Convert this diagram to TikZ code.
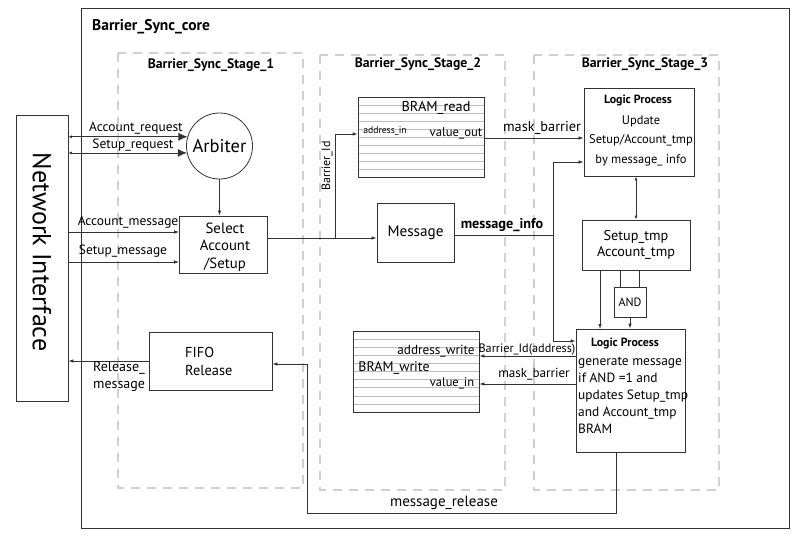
\documentclass[tikz,border=0pt]{standalone}
\usepackage{fontspec}
\setmainfont{PT Sans}
\usetikzlibrary{arrows.meta}
\definecolor{ln}{HTML}{333333}
\definecolor{dsh}{HTML}{CFCFCF}
\definecolor{stripe}{HTML}{BDBDBD}
\newcommand{\fs}[1]{\fontsize{#1}{#1}\selectfont}
\newcommand{\fsb}[2]{\fontsize{#1}{#2}\selectfont}
\begin{document}
\begin{tikzpicture}[x=1pt,y=-1pt,
  box/.style={draw=ln, line width=0.8pt, inner sep=0pt, rectangle},
  stagebox/.style={draw=dsh, line width=1.4pt, dash pattern=on 9pt off 7pt},
  conn/.style={draw=ln, line width=0.8pt},
  arr/.style={conn, -{Latex[length=5pt,width=3.5pt]}},
  txt/.style={inner sep=0pt, text=black},
  ttl/.style={txt, font=\bfseries\fs{13.7}}
]
\useasboundingbox (0,0) rectangle (800,541);
% core
\node[box, line width=0.9pt, minimum width=708, minimum height=520] (core) at (435,268) {};
\node[txt, anchor=west, font=\bfseries\fs{15.5}] (coret) at (92,27) {Barrier\_Sync\_core};
% stages
\draw[stagebox] (118,53) rectangle (303,488);
\draw[stagebox] (320,55) rectangle (505,490);
\draw[stagebox] (534,55) rectangle (719,490);
\node[ttl] (s1) at (211,65) {Barrier\_Sync\_Stage\_1};
\node[ttl] (s2) at (418,64) {Barrier\_Sync\_Stage\_2};
\node[ttl] (s3) at (645,64) {Barrier\_Sync\_Stage\_3};
% network interface
\node[box, minimum width=52, minimum height=286] (ni) at (42,258) {};
\node[txt, rotate=-90, font=\fs{26}] (nit) at (42,252) {Network Interface};
% arbiter
\node[draw=ln, line width=0.8pt, circle, minimum size=66, inner sep=0pt, font=\fs{18.5}] (arb) at (219.5,146) {Arbiter};
% select
\node[box, minimum width=88, minimum height=57] (sel) at (223.5,244.5) {};
\node[txt, align=center, font=\fsb{14.8}{17.5}] (selt) at (225,247) {Select\\Account\\/Setup};
% FIFO
\node[box, minimum width=123, minimum height=58] (fifo) at (210.5,361) {};
\node[txt, anchor=west, align=left, font=\fsb{14.4}{18}] (fifot) at (185,361) {FIFO\\Release};
% message
\node[box, minimum width=77, minimum height=59, font=\fs{15.2}] (msg) at (415.5,232.5) {Message};
% BRAM read
\node[box, minimum width=126, minimum height=80] (bramr) at (421,137) {};
\foreach \k in {1,...,9} {\draw[stripe, line width=0.5pt] (358.5,97+8*\k) -- (483.5,97+8*\k);}
\node[txt, font=\fs{14.3}] (bramrt) at (436,108) {BRAM\_read};
\node[txt, font=\fs{9.7}] (addrin) at (385,131) {address\_in};
\node[txt, font=\fs{12.7}] (valout) at (456,133) {value\_out};
% BRAM write
\node[box, minimum width=126, minimum height=81] (bramw) at (416,371.5) {};
\foreach \k in {1,...,9} {\draw[stripe, line width=0.5pt] (353.5,331+8.1*\k) -- (478.5,331+8.1*\k);}
\node[txt, font=\fs{13.2}] (addrw) at (436,351) {address\_write};
\node[txt, font=\fs{13.9}] (bramwt) at (394,368) {BRAM\_write};
\node[txt, font=\fs{12.5}] (valin) at (452,383) {value\_in};
% logic process 1
\node[box, minimum width=110, minimum height=88] (lp1) at (639,132) {};
\node[txt, font=\bfseries\fs{11.9}] (lp1t) at (638,101) {Logic Process};
\node[txt, align=center, font=\fsb{12.5}{19.5}] (lp1b) at (641,140.5) {Update\\Setup/Account\_tmp\\by message\_ info};
% tmp
\node[box, minimum width=108, minimum height=50, align=center, font=\fsb{14.2}{16.5}] (tmp) at (636,245) {Setup\_tmp\\Account\_tmp};
% AND
\node[box, minimum width=32, minimum height=30, font=\fs{12}] (and) at (630,302) {AND};
% logic process 2
\node[box, minimum width=109, minimum height=123] (lp2) at (630.5,390.5) {};
\node[txt, font=\bfseries\fs{11.9}] (lp2t) at (625,344) {Logic Process};
\node[txt, anchor=west, align=left, font=\fsb{13.4}{17}] (lp2b) at (578,395) {generate message\\if AND =1 and\\updates Setup\_tmp\\and Account\_tmp\\BRAM};

% connectors
\draw[conn, {Latex[length=3.5pt,width=3pt]}-{Latex[length=9pt,width=8pt]}] (ni.east |- arb.164) -- (arb.164);
\draw[conn, {Latex[length=3.5pt,width=3pt]}-{Latex[length=9pt,width=8pt]}] (ni.east |- arb.192) -- (arb.192);
\node[txt, font=\fs{13.4}, anchor=south] (lar) at (136,134) {Account\_request};
\node[txt, font=\fs{13.4}, anchor=south] (lsr) at (133,151) {Setup\_request};
\draw[arr] (arb.south) -- (arb.south |- sel.north);
\coordinate (am) at (68,232);
\coordinate (sm) at (68,262);
\draw[arr] (am) -- (sel.west |- am);
\draw[arr] (sm) -- (sel.west |- sm);
\node[txt, font=\fs{13.4}, anchor=south] (lam) at (128,229) {Account\_message};
\node[txt, font=\fs{13.4}, anchor=south] (lsm) at (123,258) {Setup\_message};
\coordinate (j1) at (335,238);
\draw[arr] (sel.east |- j1) -- (msg.west |- j1);
\draw[arr] (j1) -- (335,134) -- (bramr.west |- 0,134);
\node[txt, rotate=90, font=\fs{12}] (lbid) at (327,166) {Barrier\_Id};
\draw[arr] (bramr.east |- 0,138) -- (lp1.west |- 0,138);
\node[txt, font=\fs{14.3}, anchor=south] (lmb1) at (542,135) {mask\_barrier};
\coordinate (j2) at (553,235);
\draw[conn] (msg.east |- j2) -- (j2);
\node[txt, font=\bfseries\fs{14.2}, anchor=south] (lmi) at (502,232) {message\_info};
\draw[arr] (j2) -- (553,162) -- (lp1.west |- 0,162);
\draw[arr] (j2) -- (553,341) -- (lp2.west |- 0,341);
\draw[conn, {Latex[length=4pt,width=3pt]}-{Latex[length=4pt,width=3pt]}] (lp1.south -| tmp.north) -- (tmp.north);
\draw[conn] (620,270) -- (620,287);
\draw[conn] (639,270) -- (639,287);
\draw[arr] (and.south) -- (and.south |- lp2.north);
\draw[arr] (600,270) -- (600,329);
\draw[arr] (lp2.west |- 0,356) -- (bramw.east |- 0,356);
\node[txt, font=\fs{12.2}, anchor=south] (lbida) at (527,355) {Barrier\_Id(address)};
\draw[arr] (lp2.west |- 0,384) -- (bramw.east |- 0,384);
\node[txt, font=\fs{13.1}, anchor=south] (lmb2) at (534,380) {mask\_barrier};
\coordinate (r1) at (616,513);
\coordinate (r2) at (307,513);
\draw[arr] (lp2.south -| r1) -- (r1) -- (r2) -- (307,364) -- (fifo.east |- 0,364);
\node[txt, font=\fs{15}] (lmr) at (444,503) {message\_release};
\draw[arr] (fifo.west |- 0,361) -- (ni.east |- 0,361);
\node[txt, font=\fsb{14}{17}, anchor=west, align=left] (lrm) at (93,376.5) {Release\_\\message};
\end{tikzpicture}
\end{document}
